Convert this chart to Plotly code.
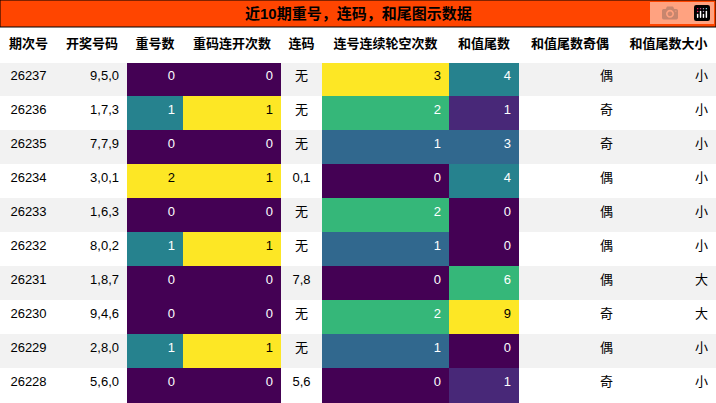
import plotly.graph_objects as go

title = "近10期重号，连码，和尾图示数据"
headers = ["期次号", "开奖号码", "重号数", "重码连开次数", "连码", "连号连续轮空次数", "和值尾数", "和值尾数奇偶", "和值尾数大小"]
issue = ["26237", "26236", "26235", "26234", "26233", "26232", "26231", "26230", "26229", "26228"]
draw = ["9,5,0", "1,7,3", "7,7,9", "3,0,1", "1,6,3", "8,0,2", "1,8,7", "9,4,6", "2,8,0", "5,6,0"]
repeat_cnt = [0, 1, 0, 2, 0, 1, 0, 0, 1, 0]
repeat_run = [0, 1, 0, 1, 0, 1, 0, 0, 1, 0]
consec = ["无", "无", "无", "0,1", "无", "无", "7,8", "无", "无", "5,6"]
consec_gap = [3, 2, 1, 0, 2, 1, 0, 2, 1, 0]
tail = [4, 1, 3, 4, 0, 0, 6, 9, 0, 1]
parity = ["偶", "奇", "奇", "偶", "偶", "偶", "偶", "奇", "偶", "奇"]
size = ["小", "小", "小", "小", "小", "小", "大", "大", "小", "小"]

VIRIDIS = ["#440154", "#482878", "#3e4989", "#31688e", "#26828e",
           "#1f9e89", "#35b779", "#6ece58", "#b5de2b", "#fde725"]
FONT = "Liberation Sans, Noto Sans CJK SC"


def viridis(v, lo, hi):
    t = 0 if hi == lo else (v - lo) / (hi - lo)
    return VIRIDIS[round(t * 9)]


def grad(vals):
    lo, hi = min(vals), max(vals)
    fills = [viridis(v, lo, hi) for v in vals]
    fonts = ["black" if f in ("#fde725", "#b5de2b") else "white" for f in fills]
    return fills, fonts


stripe = ["#f2f2f2" if i % 2 == 0 else "white" for i in range(len(issue))]
cols = [issue, draw, repeat_cnt, repeat_run, consec, consec_gap, tail, parity, size]
fills, fonts = [], []
for i, c in enumerate(cols):
    if i in (2, 3, 5, 6):
        f, t = grad(c)
    else:
        f, t = stripe, ["black"] * len(issue)
    fills.append(f)
    fonts.append(t)

widths = [57, 70, 56, 98, 41, 127, 70, 102, 95]
align = ["center", "right", "right", "right", "center", "right", "right", "right", "right"]

fig = go.Figure(go.Table(
    columnwidth=widths,
    domain=dict(x=[0, 1], y=[0, 1 - 28 / 403]),
    header=dict(values=[f"<b>{h}</b>" for h in headers], fill_color="white",
                line_color="white", align="center", height=34,
                font=dict(family=FONT, size=13, color="black")),
    cells=dict(values=cols, fill_color=fills, line_color=fills, align=align, height=34,
               font=dict(family=FONT, size=13, color=fonts)),
))
fig.add_shape(type="rect", xref="paper", yref="paper", x0=0, x1=1, y0=1 - 27 / 403, y1=1,
              fillcolor="#ff4500", line=dict(color="black", width=1))
fig.add_annotation(text=f"<b>{title}</b>", xref="paper", yref="paper", x=0.5, y=1 - 13.5 / 403,
                   yanchor="middle", showarrow=False,
                   font=dict(family=FONT, size=15, color="black"))
fig.update_layout(width=716, height=403, margin=dict(l=0, r=0, t=0, b=0),
                  paper_bgcolor="white")
fig.write_html("out.html", post_script="document.body.style.margin='0';")
